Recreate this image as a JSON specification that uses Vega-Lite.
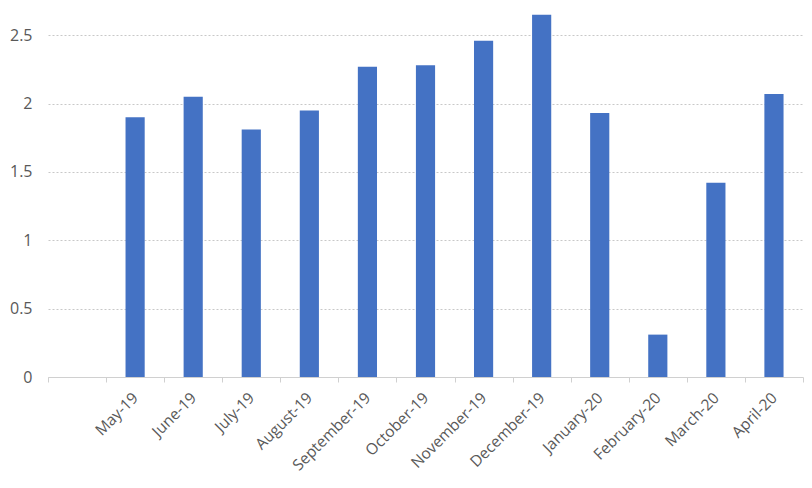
{
  "$schema": "https://vega.github.io/schema/vega-lite/v6.json",
  "width": 755,
  "height": 376,
  "autosize": "none",
  "padding": {"left": 48, "top": 1, "right": 9, "bottom": 111},
  "background": "white",
  "config": {"view": {"stroke": null}, "font": "Open Sans"},
  "data": {"values": [
    {"month": "May-19", "value": 1.90},
    {"month": "June-19", "value": 2.05},
    {"month": "July-19", "value": 1.81},
    {"month": "August-19", "value": 1.95},
    {"month": "September-19", "value": 2.27},
    {"month": "October-19", "value": 2.28},
    {"month": "November-19", "value": 2.46},
    {"month": "December-19", "value": 2.65},
    {"month": "January-20", "value": 1.93},
    {"month": "February-20", "value": 0.31},
    {"month": "March-20", "value": 1.42},
    {"month": "April-20", "value": 2.07}
  ]},
  "mark": {"type": "bar", "color": "#4472C4", "width": {"band": 0.33}},
  "encoding": {
    "x": {
      "field": "month", "type": "nominal",
      "scale": {"domain": [" ", "May-19", "June-19", "July-19", "August-19", "September-19", "October-19", "November-19", "December-19", "January-20", "February-20", "March-20", "April-20"], "paddingInner": 0, "paddingOuter": 0},
      "axis": {
        "title": null, "labelAngle": -45, "labelAlign": "right", "labelBaseline": "middle",
        "labelFontSize": 15.5, "labelColor": "#595959", "labelPadding": 13,
        "tickBand": "extent", "tickColor": "#d0d0d0", "tickSize": 5,
        "domainColor": "#d0d0d0", "grid": false
      }
    },
    "y": {
      "field": "value", "type": "quantitative",
      "scale": {"domain": [0, 2.75], "nice": false},
      "axis": {
        "title": null, "values": [0, 0.5, 1, 1.5, 2, 2.5], "format": "~g", "domain": false, "ticks": false,
        "labelFontSize": 16, "labelColor": "#595959", "labelPadding": 16,
        "gridColor": "#c8c8c8", "gridDash": [2, 2]
      }
    }
  }
}
